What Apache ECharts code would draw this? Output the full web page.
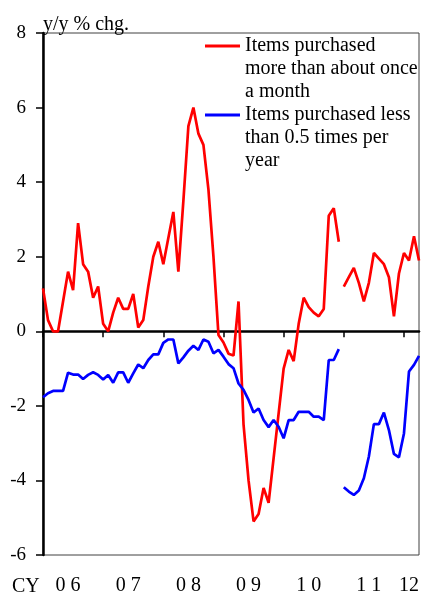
<!DOCTYPE html>
<html><head><meta charset="utf-8">
<script src="https://cdn.jsdelivr.net/npm/echarts@6/dist/echarts.min.js"></script>
<style>html,body{margin:0;padding:0;background:#fff}#c{width:421px;height:593px}</style>
</head><body><div id="c"></div>
<script>
// ---- data ----
const years = ['2006','2007','2008','2009','2010','2011','2012'];
const monthsOfYear = ['01','02','03','04','05','06','07','08','09','10','11','12'];
const lastMonth = '2012-04';
const categories = [];
for (const y of years) { for (const m of monthsOfYear) { const c = y + '-' + m; if (c <= lastMonth) categories.push(c); } }

const tickLabels = ['0 6','0 7','0 8','0 9','1 0','1 1','12'];
const tickLabelAt = ['2006-06','2007-06','2008-06','2009-06','2010-06','2011-06','2012-02'];
const yearStartMonth = '01';

const redName = 'Items purchased more than about once a month';
const blueName = 'Items purchased less than 0.5 times per year';
const legendText = {};
legendText[redName] = 'Items purchased\nmore than about once\na month';
legendText[blueName] = 'Items purchased less\nthan 0.5 times per\nyear';

// CY2006-CY2010
const red0610 = [1.15,0.3,0.0,0.0,0.8,1.6,1.1,2.9,1.8,1.6,0.9,1.2,
  0.2,0.0,0.5,0.9,0.6,0.6,1.0,0.1,0.3,1.2,2.0,2.4,
  1.8,2.5,3.2,1.6,3.5,5.5,6.0,5.3,5.0,3.8,2.0,-0.1,
  -0.3,-0.6,-0.65,0.8,-2.5,-4.0,-5.1,-4.9,-4.2,-4.6,-3.4,-2.2,
  -1.0,-0.5,-0.8,0.2,0.9,0.65,0.5,0.4,0.6,3.1,3.3,2.4];
// CY2011-CY2012
const red1112 = [1.2,1.45,1.7,1.3,0.8,1.3,2.1,1.95,1.8,1.45,0.4,1.55,2.1,1.9,2.55,1.9];

const blue0610 = [-1.77,-1.66,-1.6,-1.6,-1.6,-1.11,-1.16,-1.16,-1.28,-1.17,-1.1,-1.17,
  -1.29,-1.17,-1.38,-1.1,-1.1,-1.38,-1.13,-0.89,-0.99,-0.77,-0.62,-0.62,
  -0.31,-0.22,-0.22,-0.86,-0.7,-0.52,-0.39,-0.5,-0.22,-0.28,-0.59,-0.5,
  -0.68,-0.88,-0.99,-1.4,-1.57,-1.84,-2.18,-2.07,-2.38,-2.57,-2.38,-2.56,
  -2.87,-2.38,-2.38,-2.16,-2.16,-2.16,-2.29,-2.29,-2.38,-0.77,-0.77,-0.48];
const blue1112 = [-4.18,-4.3,-4.39,-4.27,-3.94,-3.36,-2.49,-2.49,-2.18,-2.65,-3.29,-3.38,-2.74,-1.08,-0.9,-0.66];

// ---- build ----
const nFirst = red0610.length;
const nSecond = categories.length - nFirst;
const firstPart = a => a.concat(new Array(nSecond).fill(null));
const secondPart = a => new Array(nFirst).fill(null).concat(a);

const FONT = 'Liberation Serif';
const chart = echarts.init(document.getElementById('c'), null, {renderer: 'canvas'});

const lineSeries = (name, data, color, extra) => Object.assign({
  name: name, type: 'line', data: data, symbol: 'none', showSymbol: false,
  connectNulls: false, lineStyle: {color: color, width: 2.7}, itemStyle: {color: color},
  emphasis: {disabled: true}, silent: true, z: 3
}, extra || {});

chart.setOption({
  animation: false,
  textStyle: {fontFamily: FONT},
  grid: {left: 43, right: 2, top: 33, bottom: 38, show: true, borderColor: '#404040', borderWidth: 1,
    outerBoundsMode: 'none', containLabel: false},
  legend: {
    left: 205, top: -11.5, padding: 0, orient: 'vertical',
    icon: 'rect', itemWidth: 35, itemHeight: 3, itemGap: -46,
    data: [redName, blueName], selectedMode: false,
    formatter: n => '\n\n' + legendText[n],
    textStyle: {fontFamily: FONT, fontSize: 20, lineHeight: 23, color: '#000'}
  },
  xAxis: {
    type: 'category', data: categories, boundaryGap: false,
    axisLine: {lineStyle: {color: '#000', width: 2.5}},
    axisTick: {interval: (i, v) => v.slice(5) === yearStartMonth, length: 6, lineStyle: {color: '#000', width: 1.5}},
    axisLabel: {
      interval: (i, v) => tickLabelAt.indexOf(v) >= 0,
      formatter: v => tickLabels[tickLabelAt.indexOf(v)],
      fontFamily: FONT, fontSize: 20, color: '#000', margin: 21
    },
    splitLine: {show: false}
  },
  yAxis: {
    type: 'value', min: -6, max: 8, interval: 2,
    name: 'y/y % chg.', nameLocation: 'end', nameGap: -2,
    nameTextStyle: {align: 'left', fontFamily: FONT, fontSize: 20, color: '#000'},
    axisLine: {show: true, lineStyle: {color: '#000', width: 2.5}},
    axisTick: {show: true, length: 7, lineStyle: {color: '#000', width: 1.5}},
    axisLabel: {fontFamily: FONT, fontSize: 19, color: '#000', margin: 17},
    splitLine: {show: false}
  },
  graphic: [{type: 'text', left: 12, top: 577, style: {text: 'CY', fontFamily: FONT, fontSize: 20, fill: '#000'}}],
  series: [
    lineSeries(redName, firstPart(red0610), '#ff0000', {
      markLine: {silent: true, symbol: ['none', 'none'], label: {show: false},
        lineStyle: {color: '#000', width: 1, type: 'solid'}, data: [{yAxis: 0}], z: 2}
    }),
    lineSeries(redName, secondPart(red1112), '#ff0000'),
    lineSeries(blueName, firstPart(blue0610), '#0000ff'),
    lineSeries(blueName, secondPart(blue1112), '#0000ff')
  ]
});
</script>
</body></html>
